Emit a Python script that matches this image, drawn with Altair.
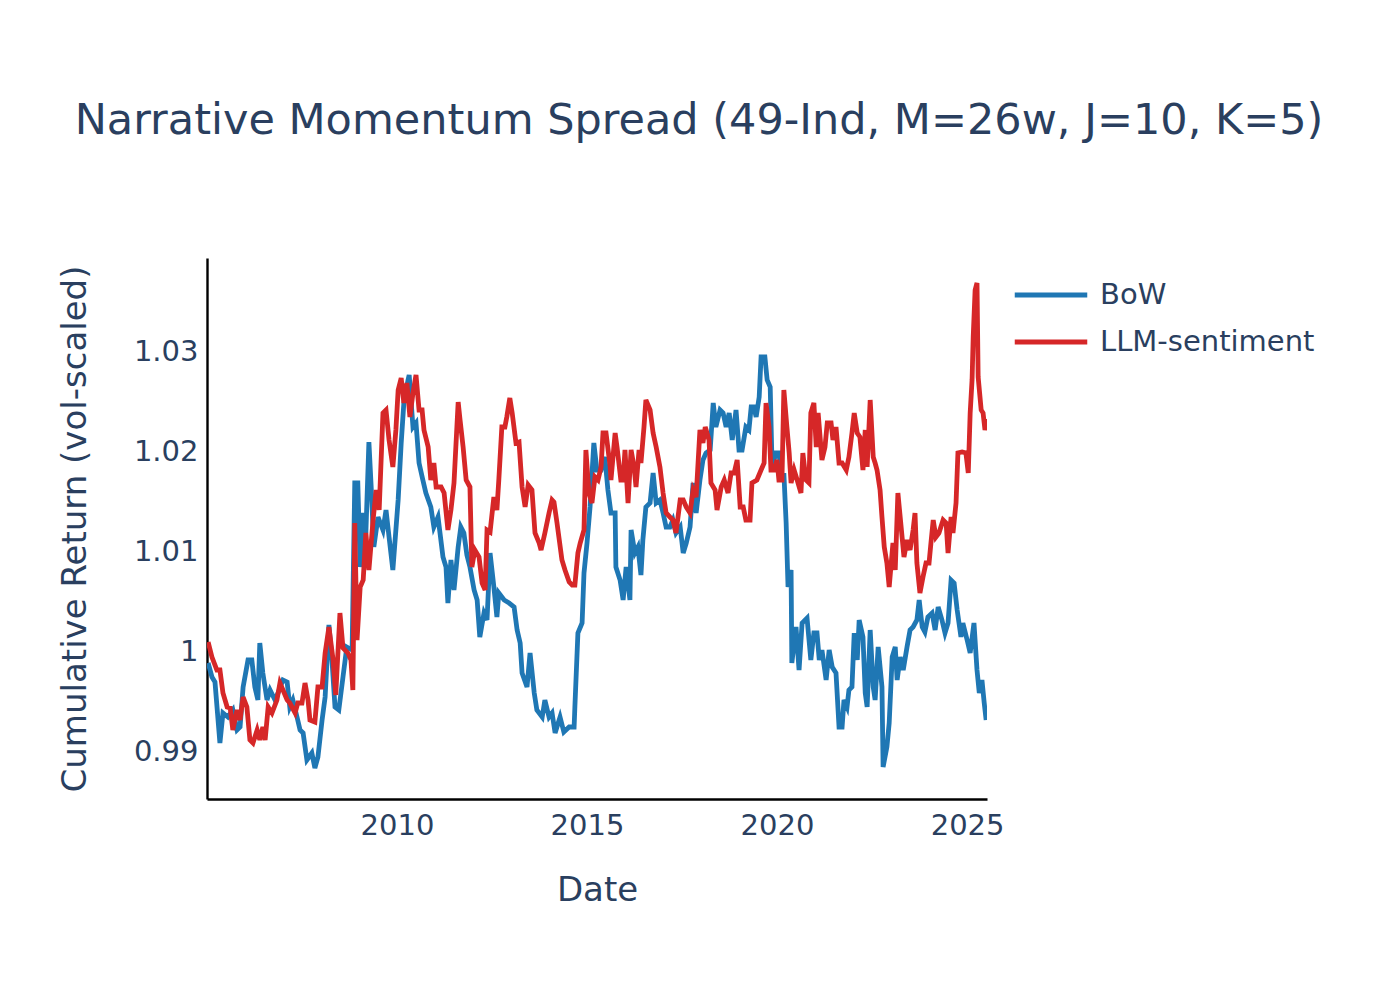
import altair as alt
import pandas as pd

# ---- BoW series (decimal year, cumulative return) ----
bow_years = [
    2005.03, 2005.13, 2005.21, 2005.34, 2005.42, 2005.55, 2005.68, 2005.79, 2005.87, 2005.95,
    2006.08, 2006.18, 2006.26, 2006.34, 2006.39, 2006.47, 2006.58, 2006.66, 2006.79, 2006.87,
    2007.00, 2007.11, 2007.18, 2007.26, 2007.37, 2007.45, 2007.53, 2007.63, 2007.76, 2007.84, 2007.92,
    2008.03, 2008.11, 2008.21, 2008.29, 2008.37, 2008.47, 2008.58, 2008.68, 2008.82, 2008.89, 2008.97,
    2009.03, 2009.11, 2009.18, 2009.26, 2009.32, 2009.39, 2009.50, 2009.63, 2009.71, 2009.79, 2009.89,
    2010.03, 2010.11, 2010.18, 2010.29, 2010.32, 2010.42, 2010.50, 2010.58, 2010.68, 2010.76, 2010.89, 2010.97,
    2011.08, 2011.21, 2011.29, 2011.34, 2011.42, 2011.50, 2011.61, 2011.68, 2011.76, 2011.84, 2011.92,
    2012.03, 2012.11, 2012.18, 2012.29, 2012.37, 2012.45, 2012.55, 2012.63, 2012.68, 2012.82, 2012.95,
    2013.08, 2013.16, 2013.24, 2013.29, 2013.42, 2013.50, 2013.61, 2013.68, 2013.82, 2013.89,
    2014.00, 2014.08, 2014.16, 2014.29, 2014.39, 2014.53, 2014.66, 2014.68, 2014.76, 2014.87, 2014.92,
    2015.00, 2015.08, 2015.18, 2015.26, 2015.37, 2015.47, 2015.55, 2015.63, 2015.74, 2015.76, 2015.87, 2015.95,
    2016.03, 2016.13, 2016.16, 2016.26, 2016.34, 2016.42, 2016.47, 2016.55, 2016.66, 2016.74, 2016.82, 2016.92,
    2017.00, 2017.08, 2017.18, 2017.26, 2017.34, 2017.45, 2017.53, 2017.61, 2017.71, 2017.79, 2017.87, 2017.97,
    2018.05, 2018.13, 2018.24, 2018.32, 2018.39, 2018.50, 2018.58, 2018.66, 2018.74, 2018.82, 2018.92,
    2019.00, 2019.08, 2019.18, 2019.26, 2019.32, 2019.39, 2019.45, 2019.53, 2019.58, 2019.68, 2019.74, 2019.82, 2019.87, 2019.97,
    2020.05, 2020.13, 2020.18, 2020.24, 2020.29, 2020.37, 2020.39, 2020.50, 2020.58, 2020.66, 2020.79, 2020.89, 2020.97,
    2021.05, 2021.11, 2021.18, 2021.29, 2021.37, 2021.45, 2021.55, 2021.63, 2021.71, 2021.76, 2021.84, 2021.89, 2021.97,
    2022.03, 2022.11, 2022.16, 2022.26, 2022.32, 2022.37, 2022.45, 2022.53, 2022.58, 2022.66, 2022.76, 2022.79, 2022.89, 2022.95,
    2023.03, 2023.11, 2023.16, 2023.24, 2023.32, 2023.42, 2023.50, 2023.58, 2023.68, 2023.74, 2023.82, 2023.89, 2023.97,
    2024.08, 2024.16, 2024.24, 2024.34, 2024.42, 2024.50, 2024.58, 2024.66, 2024.74, 2024.84, 2024.89,
    2025.00, 2025.08, 2025.18, 2025.26, 2025.32, 2025.39, 2025.45, 2025.50,
]
bow_values = [
    0.9988, 0.9974, 0.9969, 0.9908, 0.9938, 0.9934, 0.9941, 0.9921, 0.9924, 0.9964,
    0.9991, 0.9991, 0.9964, 0.9951, 1.0008, 0.9978, 0.9951, 0.9961, 0.9951, 0.9958,
    0.9971, 0.9969, 0.9944, 0.9951, 0.9934, 0.9921, 0.9918, 0.9891, 0.9898, 0.9883, 0.9894,
    0.9931, 0.9954, 1.0026, 0.9991, 0.9944, 0.9941, 0.9974, 1.0004, 1.0001, 1.0168, 1.0168,
    1.0084, 1.0138, 1.0118, 1.0209, 1.0164, 1.0104, 1.0134, 1.0121, 1.0141, 1.0114, 1.0081,
    1.0151, 1.0208, 1.0248, 1.0271, 1.0276, 1.0224, 1.0228, 1.0188, 1.0171, 1.0158, 1.0144, 1.0124,
    1.0134, 1.0094, 1.0084, 1.0048, 1.0091, 1.0061, 1.0104, 1.0124, 1.0118, 1.0096, 1.0084,
    1.0061, 1.0051, 1.0014, 1.0038, 1.0031, 1.0098, 1.0064, 1.0034, 1.0058, 1.0051, 1.0048,
    1.0044, 1.0021, 1.0008, 0.9978, 0.9964, 0.9998, 0.9958, 0.9941, 0.9934, 0.9951,
    0.9934, 0.9938, 0.9918, 0.9934, 0.9919, 0.9924, 0.9924, 0.9944, 1.0018, 1.0028, 1.0078,
    1.0108, 1.0144, 1.0208, 1.0181, 1.0181, 1.0194, 1.0161, 1.0138, 1.0138, 1.0084, 1.0071, 1.0051,
    1.0084, 1.0051, 1.0121, 1.0098, 1.0104, 1.0076, 1.0111, 1.0144, 1.0148, 1.0178, 1.0148, 1.0151,
    1.0138, 1.0124, 1.0124, 1.0131, 1.0118, 1.0124, 1.0098, 1.0108, 1.0124, 1.0168, 1.0138, 1.0171,
    1.0191, 1.0198, 1.0201, 1.0248, 1.0224, 1.0241, 1.0238, 1.0224, 1.0238, 1.0211, 1.0241,
    1.0201, 1.0201, 1.0224, 1.0221, 1.0244, 1.0244, 1.0234, 1.0254, 1.0294, 1.0294, 1.0271, 1.0264, 1.0184, 1.0198,
    1.0198, 1.0171, 1.0178, 1.0128, 1.0064, 1.0081, 0.9988, 1.0024, 0.9981, 1.0028, 1.0033, 0.9991, 1.0018,
    1.0018, 0.9991, 1.0001, 0.9971, 1.0001, 0.9984, 0.9978, 0.9924, 0.9924, 0.9951, 0.9944, 0.9961, 0.9964,
    1.0018, 0.9991, 1.0031, 1.0014, 0.9958, 0.9944, 1.0021, 0.9964, 0.9951, 1.0004, 0.9964, 0.9884, 0.9904, 0.9928,
    0.9994, 1.0004, 0.9971, 0.9994, 0.9981, 1.0004, 1.0021, 1.0024, 1.0031, 1.0051, 1.0024, 1.0019, 1.0034,
    1.0038, 1.0021, 1.0044, 1.0031, 1.0018, 1.0028, 1.0071, 1.0068, 1.0041, 1.0014, 1.0028,
    1.0011, 0.9998, 1.0028, 0.9981, 0.9958, 0.9971, 0.9948, 0.9931,
]

# ---- LLM-sentiment series ----
llm_years = [
    2005.03, 2005.13, 2005.26, 2005.34, 2005.42, 2005.53, 2005.61, 2005.68, 2005.79, 2005.87, 2005.95,
    2006.05, 2006.13, 2006.21, 2006.32, 2006.39, 2006.47, 2006.53, 2006.61, 2006.71, 2006.84, 2006.92,
    2007.00, 2007.11, 2007.18, 2007.32, 2007.39, 2007.50, 2007.58, 2007.66, 2007.71, 2007.84, 2007.92,
    2008.03, 2008.11, 2008.21, 2008.32, 2008.39, 2008.50, 2008.58, 2008.71, 2008.79, 2008.84, 2008.89, 2008.95,
    2009.03, 2009.11, 2009.18, 2009.26, 2009.37, 2009.45, 2009.53, 2009.63, 2009.71, 2009.79, 2009.89, 2009.97,
    2010.03, 2010.11, 2010.18, 2010.26, 2010.34, 2010.42, 2010.50, 2010.58, 2010.66, 2010.71, 2010.82, 2010.89, 2010.97,
    2011.03, 2011.16, 2011.24, 2011.34, 2011.42, 2011.50, 2011.61, 2011.66, 2011.74, 2011.82, 2011.92, 2011.97,
    2012.05, 2012.16, 2012.24, 2012.32, 2012.37, 2012.45, 2012.55, 2012.63, 2012.68, 2012.76, 2012.84, 2012.89, 2012.97,
    2013.03, 2013.13, 2013.21, 2013.29, 2013.37, 2013.45, 2013.55, 2013.63, 2013.74, 2013.79, 2013.89,
    2014.00, 2014.08, 2014.13, 2014.21, 2014.34, 2014.42, 2014.53, 2014.61, 2014.68, 2014.76, 2014.82, 2014.92, 2014.97,
    2015.05, 2015.13, 2015.21, 2015.29, 2015.37, 2015.42, 2015.50, 2015.61, 2015.63, 2015.74, 2015.79, 2015.89, 2015.95,
    2016.00, 2016.08, 2016.16, 2016.24, 2016.29, 2016.37, 2016.42, 2016.50, 2016.55, 2016.66, 2016.74, 2016.82, 2016.92,
    2017.00, 2017.08, 2017.18, 2017.26, 2017.34, 2017.45, 2017.53, 2017.61, 2017.71, 2017.79, 2017.87, 2017.97,
    2018.05, 2018.11, 2018.21, 2018.26, 2018.37, 2018.42, 2018.53, 2018.61, 2018.71, 2018.79, 2018.87, 2018.95,
    2019.03, 2019.11, 2019.18, 2019.29, 2019.34, 2019.47, 2019.58, 2019.66, 2019.71, 2019.79, 2019.84, 2019.92,
    2020.00, 2020.05, 2020.13, 2020.18, 2020.26, 2020.32, 2020.37, 2020.45, 2020.53, 2020.63, 2020.68, 2020.76, 2020.84, 2020.89, 2020.97,
    2021.03, 2021.08, 2021.18, 2021.26, 2021.32, 2021.42, 2021.47, 2021.55, 2021.63, 2021.71, 2021.82, 2021.89, 2021.97,
    2022.03, 2022.11, 2022.18, 2022.26, 2022.32, 2022.37, 2022.45, 2022.53, 2022.58, 2022.63, 2022.71, 2022.76, 2022.82, 2022.89, 2022.95,
    2023.05, 2023.11, 2023.18, 2023.29, 2023.34, 2023.42, 2023.50, 2023.58, 2023.63, 2023.68, 2023.76, 2023.84, 2023.92,
    2024.00, 2024.05, 2024.11, 2024.18, 2024.26, 2024.37, 2024.45, 2024.50, 2024.58, 2024.63, 2024.71, 2024.76, 2024.87, 2024.97,
    2025.03, 2025.08, 2025.13, 2025.16, 2025.21, 2025.26, 2025.29, 2025.37, 2025.42, 2025.47, 2025.53,
]
llm_values = [
    1.0009, 0.9994, 0.9981, 0.9981, 0.9958, 0.9944, 0.9943, 0.9921, 0.9941, 0.9931, 0.9954,
    0.9944, 0.9911, 0.9908, 0.9921, 0.9911, 0.9924, 0.9911, 0.9944, 0.9938, 0.9951, 0.9968,
    0.9961, 0.9951, 0.9948, 0.9938, 0.9948, 0.9948, 0.9968, 0.9951, 0.9931, 0.9929, 0.9964,
    0.9964, 0.9998, 1.0024, 0.9991, 0.9956, 1.0038, 1.0003, 0.9998, 0.9991, 0.9961, 1.0128, 1.0011,
    1.0064, 1.0071, 1.0118, 1.0081, 1.0131, 1.0161, 1.0141, 1.0238, 1.0241, 1.0211, 1.0184, 1.0221,
    1.0261, 1.0273, 1.0248, 1.0268, 1.0234, 1.0258, 1.0276, 1.0241, 1.0241, 1.0221, 1.0204, 1.0171, 1.0188,
    1.0164, 1.0164, 1.0158, 1.0121, 1.0141, 1.0168, 1.0249, 1.0231, 1.0204, 1.0171, 1.0164, 1.0084,
    1.0101, 1.0094, 1.0068, 1.0061, 1.0121, 1.0119, 1.0154, 1.0141, 1.0171, 1.0224, 1.0224, 1.0234, 1.0253,
    1.0238, 1.0208, 1.0209, 1.0164, 1.0144, 1.0166, 1.0161, 1.0118, 1.0108, 1.0101, 1.0118,
    1.0138, 1.0151, 1.0149, 1.0128, 1.0091, 1.0081, 1.0069, 1.0066, 1.0066, 1.0098, 1.0108, 1.0121, 1.0201,
    1.0158, 1.0148, 1.0174, 1.0171, 1.0184, 1.0218, 1.0218, 1.0184, 1.0171, 1.0218, 1.0204, 1.0171, 1.0171,
    1.0201, 1.0148, 1.0201, 1.0184, 1.0164, 1.0201, 1.0188, 1.0224, 1.0251, 1.0241, 1.0218, 1.0204, 1.0184,
    1.0158, 1.0138, 1.0134, 1.0131, 1.0118, 1.0151, 1.0151, 1.0144, 1.0138, 1.0161, 1.0154, 1.0221,
    1.0208, 1.0224, 1.0211, 1.0168, 1.0161, 1.0141, 1.0164, 1.0171, 1.0158, 1.0178, 1.0178, 1.0191,
    1.0144, 1.0144, 1.0131, 1.0131, 1.0168, 1.0171, 1.0181, 1.0188, 1.0248, 1.0224, 1.0181, 1.0181,
    1.0191, 1.0171, 1.0171, 1.0261, 1.0224, 1.0198, 1.0168, 1.0181, 1.0171, 1.0158, 1.0198, 1.0171, 1.0168, 1.0238, 1.0248,
    1.0204, 1.0238, 1.0191, 1.0204, 1.0228, 1.0228, 1.0211, 1.0224, 1.0188, 1.0188, 1.0181, 1.0194, 1.0218,
    1.0238, 1.0218, 1.0214, 1.0181, 1.0221, 1.0184, 1.0251, 1.0194, 1.0188, 1.0181, 1.0161, 1.0134, 1.0104, 1.0088, 1.0064,
    1.0108, 1.0081, 1.0158, 1.0114, 1.0094, 1.0111, 1.0101, 1.0121, 1.0138, 1.0088, 1.0058, 1.0074, 1.0088,
    1.0088, 1.0108, 1.0131, 1.0114, 1.0118, 1.0131, 1.0128, 1.0098, 1.0134, 1.0118, 1.0148, 1.0198, 1.0199, 1.0198,
    1.0178, 1.0238, 1.0271, 1.0314, 1.0361, 1.0368, 1.0274, 1.0241, 1.0238, 1.0221, 1.0232,
]

series_names = ["BoW", "LLM-sentiment"]
series_colors = ["#1f77b4", "#d62728"]
x_tick_years = [2010, 2015, 2020, 2025]
y_tick_values = [0.99, 1.0, 1.01, 1.02, 1.03]

TEXT = "#2a3f5f"
FONT = "DejaVu Sans"


def to_dates(years):
    out = []
    for y in years:
        yi = int(y)
        out.append(pd.Timestamp(yi, 1, 1) + pd.Timedelta(days=(y - yi) * 365.25))
    return out


df = pd.concat(
    [
        pd.DataFrame({"date": to_dates(bow_years), "value": bow_values, "series": series_names[0]}),
        pd.DataFrame({"date": to_dates(llm_years), "value": llm_values, "series": series_names[1]}),
    ],
    ignore_index=True,
)
df["date"] = df["date"].dt.strftime("%Y-%m-%dT%H:%M:%S")

chart = (
    alt.Chart(df)
    .mark_line(strokeWidth=4.8, clip=True)
    .encode(
        x=alt.X(
            "date:T",
            scale=alt.Scale(
                domain=[alt.DateTime(year=2005, month=1, date=1), alt.DateTime(year=2025, month=7, date=11)]
            ),
            axis=alt.Axis(
                title="Date",
                values=[alt.DateTime(year=y, month=1, date=1) for y in x_tick_years],
                format="%Y",
                labelFontSize=29,
                labelPadding=12,
                titleFontSize=34,
                titleY=91,
                titleBaseline="middle",
            ),
        ),
        y=alt.Y(
            "value:Q",
            scale=alt.Scale(domain=[0.9852, 1.0393], zero=False, nice=False),
            axis=alt.Axis(
                title="Cumulative Return (vol-scaled)",
                values=y_tick_values,
                format=".4~g",
                labelFontSize=29,
                labelPadding=9,
                titleFontSize=34,
                titleX=-132,
                titleY=270.5,
                titleAngle=-90,
                titleAlign="center",
                titleBaseline="middle",
            ),
        ),
        color=alt.Color(
            "series:N",
            scale=alt.Scale(domain=series_names, range=series_colors),
            legend=alt.Legend(
                title=None,
                orient="none",
                legendX=827,
                legendY=20,
                padding=0,
                labelFontSize=29,
                labelColor=TEXT,
                labelFont=FONT,
                labelLimit=600,
                symbolType="M-2.5,0H2.5",
                symbolSize=841,
                symbolStrokeWidth=4.8,
                labelOffset=32,
                rowPadding=15,
            ),
        ),
    )
    .properties(
        width=780,
        height=541,
        autosize=alt.AutoSizeParams(type="none"),
        padding={"left": 207, "top": 258, "right": 388, "bottom": 201},
        title=alt.TitleParams(
            text="Narrative Momentum Spread (49-Ind, M=26w, J=10, K=5)",
            fontSize=43,
            font=FONT,
            fontWeight="normal",
            color=TEXT,
            anchor="middle",
            dx=102,
            offset=94,
            baseline="middle",
        ),
    )
    .configure(font=FONT, background="white")
    .configure_view(stroke=None)
    .configure_axis(
        grid=False,
        ticks=False,
        domainColor="black",
        domainWidth=2.4,
        labelColor=TEXT,
        titleColor=TEXT,
        labelFont=FONT,
        titleFont=FONT,
        titleFontWeight="normal",
    )
)

chart.save("out.html", embed_options={"renderer": "svg", "actions": False})
